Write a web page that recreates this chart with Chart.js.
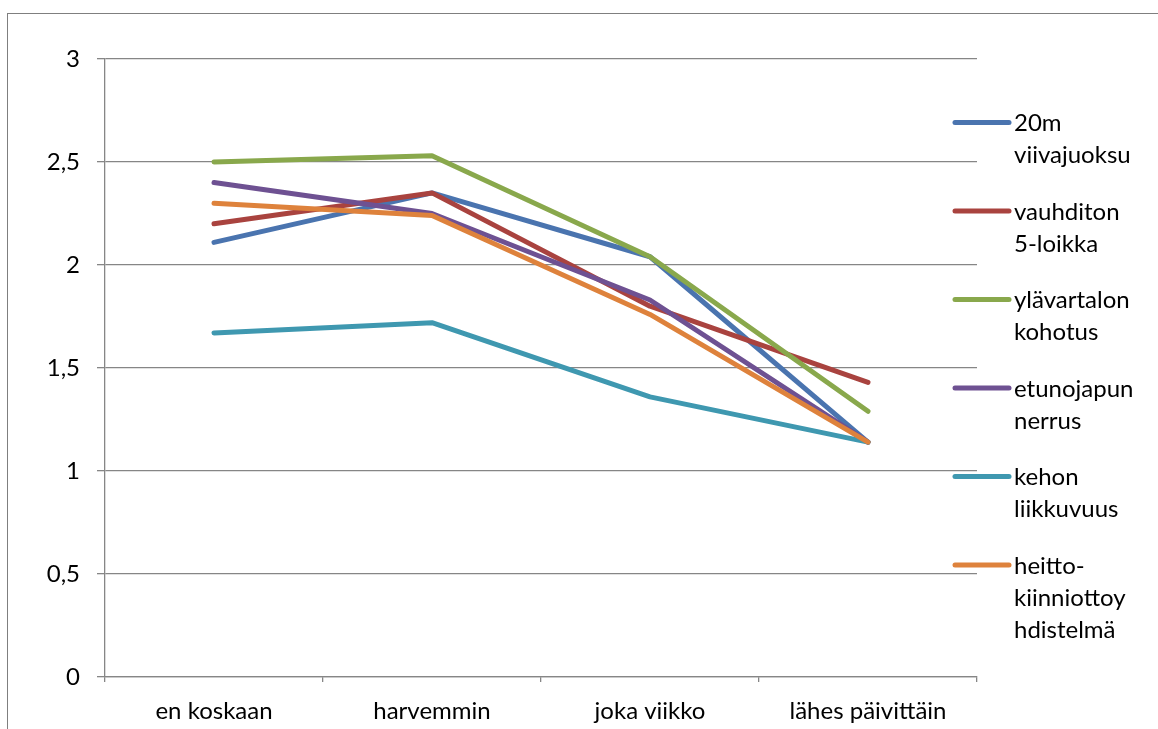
<!DOCTYPE html>
<html lang="fi">

<head>
    <meta charset="UTF-8">
    <title>Kuntotestit</title>
    <style>
        body {
            margin: 0;
            background: #fff;
            font-family: Lato, Arial, sans-serif;
        }

        .frame {
            position: absolute;
            left: 7px;
            top: 13px;
            width: 1170px;
            height: 740px;
            border: 1px solid #7f7f7f;
        }

        .wrap {
            position: absolute;
            left: 0;
            top: 0;
            width: 1158px;
            height: 729px;
        }
    </style>
    <script src="https://cdn.jsdelivr.net/npm/chart.js"></script>
</head>

<body>
    <div class="frame"></div>
    <div class="wrap"><canvas id="chart" width="1158" height="729"></canvas></div>

    <script>
        // luokat ja sarjat
        const categories = ['en koskaan', 'harvemmin', 'joka viikko', 'lähes päivittäin'];
        const yTicks = [0, 0.5, 1, 1.5, 2, 2.5, 3];

        const viivajuoksu = [2.11, 2.35, 2.04, 1.14];
        const viiSiLoikka = [2.20, 2.35, 1.80, 1.43];
        const ylavartalo = [2.50, 2.53, 2.04, 1.29];
        const etunojapunnerrus = [2.40, 2.25, 1.83, 1.14];
        const liikkuvuus = [1.67, 1.72, 1.36, 1.14];
        const heittoKiinniotto = [2.30, 2.24, 1.76, 1.14];

        const seriesNames = [
            ['20m', 'viivajuoksu'],
            ['vauhditon', '5-loikka'],
            ['ylävartalon', 'kohotus'],
            ['etunojapun', 'nerrus'],
            ['kehon', 'liikkuvuus'],
            ['heitto-', 'kiinniottoy', 'hdistelmä']
        ];
        const seriesValues = [viivajuoksu, viiSiLoikka, ylavartalo, etunojapunnerrus, liikkuvuus, heittoKiinniotto];
        const colors = ['#4A74AF', '#A9433F', '#89A84C', '#6E5192', '#3F98B0', '#DE823C'];

        const FONT = 'Lato, Arial, sans-serif';
        const FSIZE = 24;

        // oma selite oikealle, monirivisillä nimillä
        const sideLegend = {
            id: 'sideLegend',
            afterDraw(chart) {
                const ctx = chart.ctx;
                ctx.save();
                chart.data.datasets.forEach((ds, i) => {
                    const y = 122.5 + i * 88.5;
                    ctx.strokeStyle = ds.borderColor;
                    ctx.lineWidth = 5;
                    ctx.lineCap = 'round';
                    ctx.beginPath();
                    ctx.moveTo(955, y);
                    ctx.lineTo(1009, y);
                    ctx.stroke();
                    ctx.fillStyle = '#000';
                    ctx.font = FSIZE + 'px ' + FONT;
                    ctx.textBaseline = 'middle';
                    ctx.textAlign = 'left';
                    seriesNames[i].forEach((line, j) => {
                        ctx.fillText(line, 1014, y + 1 + j * 32);
                    });
                });
                ctx.restore();
            }
        };

        const ctx = document.getElementById('chart').getContext('2d');

        new Chart(ctx, {
            type: 'line',
            data: {
                labels: categories,
                datasets: seriesValues.map((vals, i) => ({
                    label: seriesNames[i].join(' '),
                    data: vals,
                    borderColor: colors[i],
                    backgroundColor: colors[i],
                    borderWidth: 5,
                    borderCapStyle: 'round',
                    borderJoinStyle: 'round',
                    pointRadius: 0,
                    tension: 0,
                    order: seriesValues.length - i
                }))
            },
            options: {
                responsive: false,
                animation: false,
                layout: {
                    padding: { left: 0, right: 181, top: 59, bottom: 0 }
                },
                plugins: {
                    legend: { display: false },
                    tooltip: { enabled: false }
                },
                scales: {
                    x: {
                        offset: true,
                        afterFit(scale) { scale.height = 52; },
                        grid: {
                            offset: true,
                            drawOnChartArea: false,
                            drawTicks: true,
                            tickLength: 5,
                            color: '#868686',
                            lineWidth: 1.3
                        },
                        border: { display: true, color: '#868686', width: 1.3 },
                        ticks: {
                            color: '#000',
                            font: { family: FONT, size: FSIZE },
                            padding: 15,
                            maxRotation: 0
                        }
                    },
                    y: {
                        min: 0,
                        max: 3,
                        afterFit(scale) { scale.width = 105; },
                        afterBuildTicks(scale) {
                            scale.ticks = yTicks.map(v => ({ value: v }));
                        },
                        grid: {
                            color: '#868686',
                            lineWidth: 1.3,
                            drawTicks: true,
                            tickLength: 8
                        },
                        border: { display: true, color: '#868686', width: 1.3 },
                        ticks: {
                            color: '#000',
                            font: { family: FONT, size: FSIZE },
                            padding: 17,
                            callback: v => String(v).replace('.', ',')
                        }
                    }
                }
            },
            plugins: [sideLegend]
        });
    </script>
</body>

</html>
